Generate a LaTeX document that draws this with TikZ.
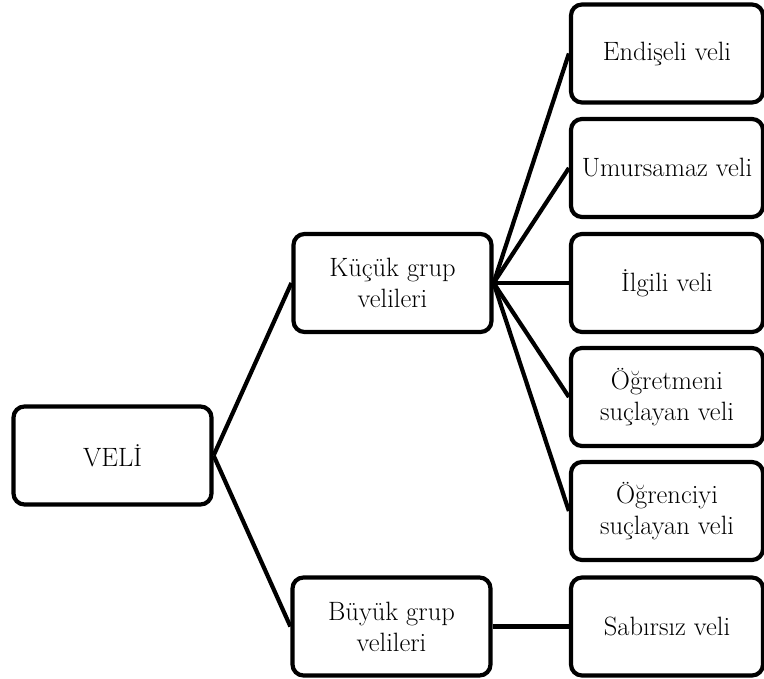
\documentclass[tikz,border=0pt]{standalone}
\usepackage{fontspec}
\begin{document}
\begin{tikzpicture}[x=1pt,y=-1pt,
  box/.style={draw=black, line width=4.2pt, rounded corners=11pt, align=center,
    minimum height=98pt, inner sep=0pt, font=\fontsize{26.5}{31}\selectfont},
  midbox/.style={box, minimum width=198pt},
  rbox/.style={box, minimum width=192pt},
  conn/.style={line width=4.2pt}]
\useasboundingbox (0,0) rectangle (764,679);
\node[midbox] (veli) at (112.5,455.5) {VELİ};
\node[midbox] (kucuk) at (392.5,283) {Küçük grup\\velileri};
\node[midbox] (buyuk) at (391.5,626.5) {Büyük grup\\velileri};
\node[rbox] (endiseli) at (667,53.5) {Endişeli veli};
\node[rbox] (umursamaz) at (667,168) {Umursamaz veli};
\node[rbox] (ilgili) at (667,283) {İlgili veli};
\node[rbox] (ogretmeni) at (667,397) {Öğretmeni\\suçlayan veli};
\node[rbox] (ogrenciyi) at (667,511) {Öğrenciyi\\suçlayan veli};
\node[rbox] (sabirsiz) at (667,626.5) {Sabırsız veli};
\draw[conn] (veli.east) -- (kucuk.west);
\draw[conn] (veli.east) -- (buyuk.west);
\foreach \t in {endiseli,umursamaz,ilgili,ogretmeni,ogrenciyi}
  \draw[conn] (kucuk.east) -- (\t.west);
\draw[conn] (buyuk.east) -- (sabirsiz.west);
\end{tikzpicture}
\end{document}
